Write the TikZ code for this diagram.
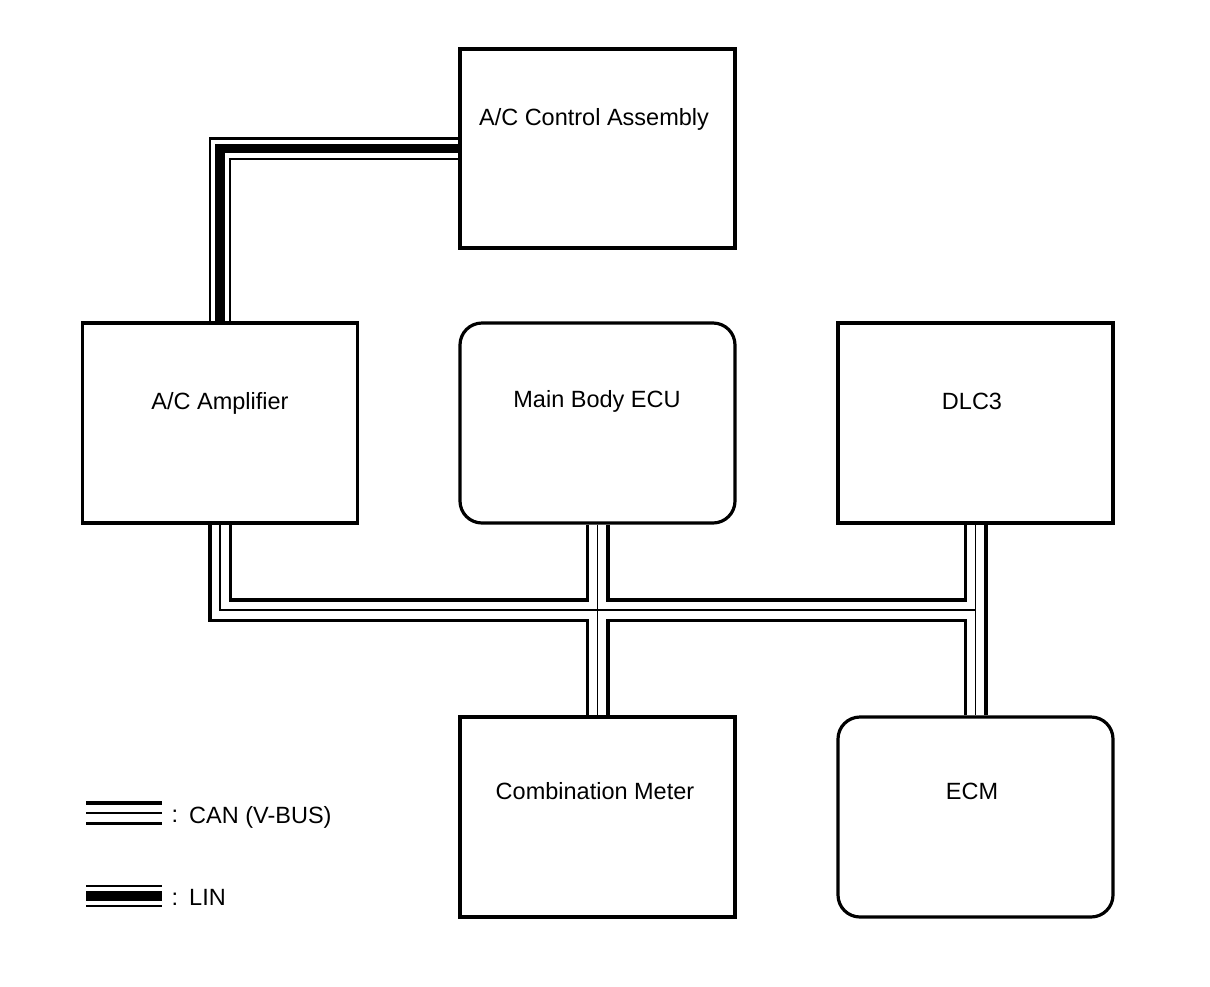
\documentclass[tikz,border=0pt]{standalone}
\usepackage{fontspec}
\setmainfont{Liberation Sans}
\usetikzlibrary{backgrounds}
\begin{document}
\begin{tikzpicture}[x=1pt,y=-1pt,
 box/.style={draw=black,line width=3.2pt,fill=white,minimum width=275pt,minimum height=200pt,inner sep=0pt},
 rbox/.style={box,rounded corners=22pt},
 lbl/.style={font=\fontsize{23.5}{28}\selectfont,anchor=base,inner sep=0pt},
 canO/.style={line width=24pt,draw=black},
 canW/.style={line width=17pt,draw=white},
 canM/.style={line width=1.3pt,draw=black},
 linO/.style={line width=22.4pt,draw=black},
 linW/.style={line width=18pt,draw=white},
 linM/.style={line width=9.5pt,draw=black},
]
\useasboundingbox (0,0) rectangle (1210,986);
% boxes
\node[box,minimum height=199pt] (acc) at (597.5,148.5) {};
\node[box] (amp) at (220,423) {};
\node[rbox] (ecu) at (597.5,423) {};
\node[box] (dlc) at (975.5,423) {};
\node[box] (meter) at (597.5,817) {};
\node[rbox] (ecm) at (975.5,817) {};
% labels
\node[lbl] (acc-t) at (594,125) {A/C Control Assembly};
\node[lbl] (amp-t) at (220,409) {A/C Amplifier};
\node[lbl] (ecu-t) at (597,407) {Main Body ECU};
\node[lbl] (dlc-t) at (972,409) {DLC3};
\node[lbl] (meter-t) at (595,799) {Combination Meter};
\node[lbl] (ecm-t) at (972,799) {ECM};
% legend
\coordinate (canL1) at (86,813);
\coordinate (canL2) at (162,813);
\coordinate (linL1) at (86,896);
\coordinate (linL2) at (162,896);
\foreach \s in {canO,canW,canM} \draw[\s] (canL1) -- (canL2);
\foreach \s in {linO,linW,linM} \draw[\s] (linL1) -- (linL2);
\node[lbl] (colon1) at (175,822) {:};
\node[lbl,anchor=base west] (can-t) at (189,823) {CAN (V-BUS)};
\node[lbl] (colon2) at (175,905) {:};
\node[lbl,anchor=base west] (lin-t) at (189,905) {LIN};
% connectors
\begin{pgfonlayer}{background}
\fill[white] (0,0) rectangle (1210,986);
\foreach \s in {linO,linW,linM} \draw[\s] (amp.north) |- (acc.west);
\foreach \s in {canO,canW,canM} {
  \draw[\s] (amp.south) |- (dlc.south |- 0,610);
  \draw[\s] (ecu.south) -- (meter.north);
  \draw[\s] (dlc.south) -- (ecm.north);
}
\end{pgfonlayer}
\end{tikzpicture}
\end{document}
